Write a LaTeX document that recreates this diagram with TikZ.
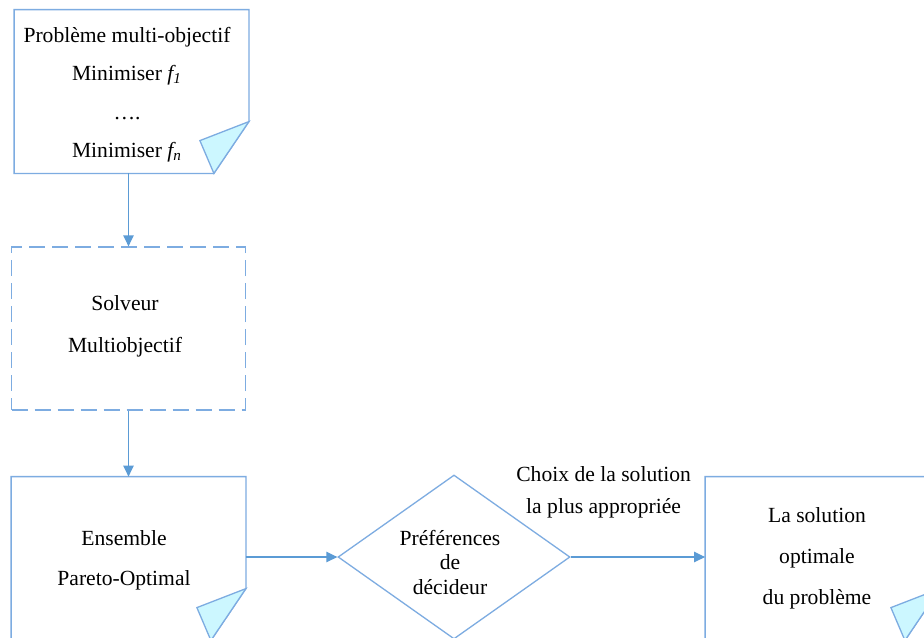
\documentclass[tikz,border=0pt]{standalone}
\usepackage{fontspec}
\setmainfont{Liberation Serif}
\usetikzlibrary{arrows.meta,calc,shapes.geometric}

\definecolor{edgeblue}{RGB}{125,172,225}
\definecolor{arrowblue}{RGB}{91,155,213}
\definecolor{foldfill}{RGB}{204,247,255}

\tikzset{
  boxline/.style={draw=edgeblue, line width=0.65pt, line join=miter},
  frame/.style={rectangle, inner sep=0pt, minimum width=117pt, minimum height=81.5pt},
  dashframe/.style={frame, draw=edgeblue, line width=0.65pt, dash pattern=on 8pt off 3.5pt},
  decision/.style={diamond, draw=edgeblue, line width=0.65pt, inner sep=0pt,
    minimum width=116pt, minimum height=82pt},
  label/.style={align=center, inner sep=0pt, text=black},
  flow/.style={draw=arrowblue, line width=0.65pt, -{Triangle[length=5.5pt,width=5.2pt]}},
}

% outline of a box whose lower right corner is folded over
\newcommand\foldedbox[1]{%
  \draw[boxline] (#1.south west) -- (#1.north west) -- (#1.north east)
    -- ($(#1.north east)+(0,112)$) -- ($(#1.south east)+(-35,0)$) -- cycle;
  \draw[boxline, fill=foldfill] ($(#1.north east)+(0,112)$)
    -- ($(#1.north east)+(-49,131)$) -- ($(#1.south east)+(-35,0)$) -- cycle;
}

\begin{document}
\begin{tikzpicture}[x=0.5pt, y=-0.5pt]
\clip (0,0) rectangle (924,637);
\fill[white] (0,0) rectangle (924,637);

% frames
\node[frame] (prob) at (131.5,91.5) {};
\node[dashframe] (solv) at (128.5,328.5) {};
\node[frame] (pareto) at (128.5,558.5) {};
\node[decision] (pref) at (454,557) {};
\node[frame] (sol) at (822.5,558.5) {};

\foldedbox{prob}
\foldedbox{pareto}
\foldedbox{sol}

% texts
\node[label, font=\fontsize{10.8}{19.25}\selectfont] (probtxt) at (127,94.5)
  {Problème multi-objectif\\Minimiser \textit{f\textsubscript{1}}\\….\\Minimiser \textit{f\textsubscript{n}}};
\node[label, font=\fontsize{10.8}{21}\selectfont] (solvtxt) at (125,326)
  {Solveur\\Multiobjectif};
\node[label, font=\fontsize{10.8}{20}\selectfont] (paretotxt) at (124,560)
  {Ensemble\\Pareto-Optimal};
\node[label, font=\fontsize{10.8}{12.25}\selectfont] (preftxt) at (450,562)
  {Préférences\\de\\décideur};
\node[label, font=\fontsize{10.8}{20.5}\selectfont] (soltxt) at (817,558.5)
  {La solution\\optimale\\du problème};

% connectors
\draw[flow] (solv.north |- prob.south) -- (solv.north);
\draw[flow] (solv.south) -- (pareto.north);
\draw[flow] (pareto.east |- pref.west) -- (pref.west);
\draw[flow] (pref.east) -- node[pos=0.245, label, above=19pt, font=\fontsize{10.8}{16}\selectfont] (choix)
  {Choix de la solution\\la plus appropriée} (pref.east -| sol.west);
\end{tikzpicture}
\end{document}
